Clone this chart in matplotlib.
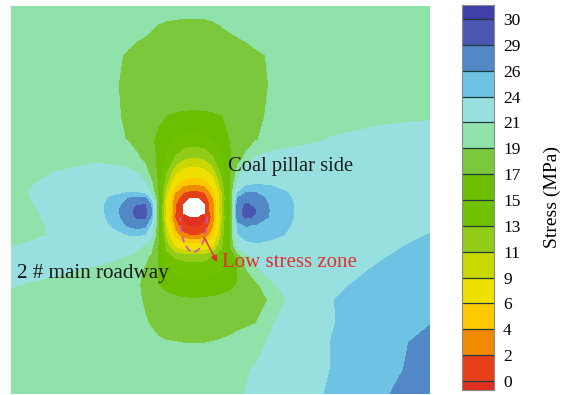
import numpy as np
import matplotlib
matplotlib.use('Agg')
import matplotlib.pyplot as plt
from matplotlib.patches import Arc

plt.rcParams['font.family'] = 'Liberation Serif'

# Stress contour bands (MPa) and their fill colours, low to high
levels = [-5, 0, 2, 4, 6, 9, 11, 13, 15, 17, 19, 21, 24, 26, 29, 30, 35]
band_colors = ['#e03022', '#e6401a', '#f08a00', '#fcc800', '#f0e000', '#c8d800',
               '#92cc18', '#70c200', '#6cbf00', '#7cc83c', '#8ee2aa', '#98e0e0',
               '#6ec2e4', '#5288c6', '#4a56b0', '#4040a8']
tick_values = levels[1:-1]

# Model grid (px across the section); nan = excavated roadway
x_nodes = [11, 55, 95, 115, 128, 137, 145, 151, 158, 166, 175, 183, 189, 194,
           199, 205, 213, 222, 231, 238, 246, 256, 270, 295, 330, 380, 430]
y_nodes = [6, 25, 55, 85, 117, 140, 158, 172, 184, 192, 198, 204, 210, 214,
           217, 225, 235, 246, 258, 270, 285, 300, 322, 343, 370, 394]
nan = np.nan
stress = [
    [20.3, 20.3, 20.2, 20.1, 20.0, 19.95, 19.9, 19.85, 19.8, 19.75, 19.7, 19.7, 19.7, 19.7, 19.7, 19.7, 19.75, 19.8, 19.85, 19.9, 20.0, 20.1, 20.2, 20.3, 20.4, 20.5, 20.6],
    [20.3, 20.2, 20.0, 19.8, 19.6, 19.45, 19.3, 19.15, 18.95, 18.8, 18.7, 18.65, 18.6, 18.6, 18.6, 18.65, 18.8, 19.05, 19.25, 19.4, 19.6, 19.8, 20.0, 20.2, 20.4, 20.5, 20.6],
    [20.3, 20.1, 19.7, 19.2, 18.85, 18.6, 18.5, 18.4, 18.3, 18.2, 18.15, 18.1, 18.1, 18.1, 18.1, 18.1, 18.15, 18.2, 18.3, 18.4, 18.5, 18.8, 19.1, 19.6, 20.2, 20.5, 20.7],
    [20.2, 19.9, 19.5, 19.1, 18.7, 18.45, 18.3, 18.2, 18.0, 17.9, 17.8, 17.75, 17.7, 17.7, 17.7, 17.75, 17.8, 17.9, 18.0, 18.1, 18.25, 18.55, 19.05, 19.6, 20.2, 20.6, 20.8],
    [20.2, 19.8, 19.4, 19.15, 18.8, 18.45, 18.1, 17.75, 17.3, 16.95, 16.85, 16.8, 16.8, 16.8, 16.8, 16.8, 16.85, 16.95, 17.3, 17.7, 18.05, 18.6, 19.25, 19.8, 20.3, 20.7, 20.9],
    [20.0, 19.7, 19.4, 19.2, 18.95, 18.5, 17.8, 17.2, 16.6, 15.6, 14.8, 14.4, 14.2, 14.2, 14.2, 14.4, 14.9, 15.9, 17.1, 17.7, 18.3, 18.9, 19.6, 20.3, 21.1, 21.5, 21.6],
    [20.2, 20.6, 20.7, 20.3, 19.7, 19.2, 18.6, 17.9, 16.6, 14.8, 12.6, 11.3, 11.0, 10.9, 11.0, 11.3, 12.6, 14.8, 16.9, 18.3, 19.4, 21.2, 21.8, 22.0, 22.0, 21.9, 21.8],
    [20.3, 21.0, 21.5, 21.6, 21.4, 20.9, 19.6, 18.3, 16.5, 13.0, 9.6, 8.2, 7.8, 7.7, 7.8, 8.2, 9.8, 13.5, 17.0, 19.8, 22.2, 22.8, 22.8, 22.5, 22.3, 22.1, 22.0],
    [20.5, 21.4, 22.2, 22.6, 22.7, 22.5, 21.4, 19.5, 16.8, 11.5, 6.5, 4.6, 4.2, 4.1, 4.2, 4.6, 7.0, 12.0, 17.2, 21.8, 23.4, 23.9, 23.8, 23.0, 22.6, 22.3, 22.2],
    [20.6, 21.6, 22.6, 23.4, 23.8, 23.8, 22.8, 20.5, 16.8, 10.0, 4.2, 2.2, 1.6, 1.5, 1.6, 2.2, 5.0, 11.0, 17.5, 23.8, 25.8, 25.8, 24.8, 23.6, 22.8, 22.4, 22.3],
    [20.5, 21.6, 23.0, 24.5, 25.9, 26.4, 26.3, 23.0, 17.2, 9.0, 2.8, 1.0, 0.6, 0.5, 0.6, 1.0, 4.0, 10.5, 17.5, 26.0, 27.6, 27.2, 25.3, 23.8, 23.0, 22.5, 22.4],
    [20.3, 21.6, 23.2, 24.8, 27.0, 28.8, 28.9, 25.5, 17.5, 8.5, 2.1, 0.6, nan, nan, nan, 0.8, 2.8, 11.0, 17.5, 27.4, 29.2, 28.3, 25.6, 23.9, 23.0, 22.6, 22.6],
    [20.2, 21.5, 23.2, 24.9, 28.2, 29.6, 29.7, 26.5, 17.5, 8.5, 2.1, 0.6, nan, nan, nan, 0.8, 2.8, 11.0, 17.5, 28.0, 29.9, 29.0, 25.8, 23.9, 23.1, 22.7, 22.8],
    [20.15, 21.45, 23.15, 24.85, 28.0, 29.5, 29.6, 26.3, 17.5, 8.3, 2.0, 0.4, nan, nan, nan, 0.6, 2.7, 10.8, 17.5, 27.9, 29.8, 28.9, 25.7, 23.9, 23.1, 22.8, 23.0],
    [20.1, 21.4, 23.1, 24.8, 27.6, 29.3, 29.4, 25.8, 17.5, 8.0, 1.8, -0.2, -1.5, -1.8, -1.5, -0.2, 2.5, 10.5, 17.5, 27.5, 29.5, 28.6, 25.6, 23.9, 23.1, 22.9, 23.2],
    [20.0, 21.3, 22.8, 24.4, 26.3, 27.0, 26.6, 23.5, 17.4, 9.0, 3.0, 0.3, -0.4, -0.5, -0.4, 0.3, 3.5, 11.0, 17.5, 25.0, 26.2, 25.8, 24.9, 23.8, 23.0, 23.1, 23.6],
    [20.0, 21.2, 22.4, 23.4, 24.0, 24.2, 23.8, 21.8, 17.5, 10.5, 5.0, 2.5, 2.0, 1.8, 2.0, 2.5, 5.0, 11.5, 17.6, 23.8, 24.8, 25.0, 24.5, 23.6, 23.0, 23.3, 24.05],
    [20.9, 21.8, 22.3, 22.5, 22.3, 21.6, 20.6, 19.6, 17.0, 12.0, 8.5, 7.2, 7.0, 7.0, 7.0, 7.2, 8.5, 12.5, 17.4, 21.5, 23.2, 23.6, 23.4, 23.0, 22.8, 23.6, 24.4],
    [21.3, 22.0, 21.8, 21.2, 20.6, 20.1, 19.3, 18.6, 17.0, 14.0, 12.8, 12.5, 12.4, 12.4, 12.4, 12.5, 13.0, 14.0, 15.6, 17.3, 19.8, 21.6, 22.4, 22.8, 23.0, 23.9, 24.7],
    [21.6, 21.4, 20.6, 20.2, 19.8, 19.3, 18.8, 18.3, 17.0, 15.5, 14.4, 14.1, 14.0, 14.0, 14.0, 14.1, 14.4, 14.9, 15.8, 17.0, 18.8, 20.6, 22.0, 22.6, 23.3, 24.2, 24.9],
    [21.1, 20.4, 20.0, 19.7, 19.4, 19.1, 18.8, 18.4, 17.0, 16.2, 15.7, 15.5, 15.5, 15.5, 15.5, 15.5, 15.7, 16.0, 16.5, 17.1, 17.9, 18.5, 20.5, 22.4, 23.6, 24.6, 25.3],
    [20.6, 20.2, 19.9, 19.6, 19.4, 19.2, 18.85, 18.6, 18.3, 17.9, 17.5, 17.3, 17.2, 17.2, 17.2, 17.3, 17.4, 17.6, 17.8, 18.0, 18.3, 18.5, 19.1, 22.0, 23.9, 25.0, 25.7],
    [20.4, 20.1, 19.8, 19.6, 19.4, 19.2, 19.1, 18.9, 18.6, 18.4, 18.3, 18.2, 18.2, 18.2, 18.2, 18.2, 18.3, 18.4, 18.5, 18.6, 18.7, 18.9, 20.6, 22.5, 23.8, 25.5, 25.9],
    [20.3, 20.1, 19.9, 19.7, 19.6, 19.5, 19.4, 19.3, 19.2, 19.1, 19.05, 19.0, 18.98, 18.97, 18.98, 19.0, 19.05, 19.15, 19.3, 19.5, 19.8, 20.2, 21.3, 22.4, 24.0, 25.2, 26.6],
    [20.2, 20.1, 20.0, 19.9, 19.85, 19.8, 19.8, 19.8, 19.8, 19.85, 19.9, 19.95, 20.0, 20.05, 20.1, 20.15, 20.25, 20.4, 20.55, 20.7, 20.85, 21.2, 22.0, 23.2, 24.0, 25.3, 26.8],
    [20.2, 20.1, 20.0, 20.0, 20.0, 20.0, 20.0, 20.0, 20.0, 20.05, 20.1, 20.15, 20.2, 20.25, 20.3, 20.4, 20.5, 20.6, 20.75, 20.9, 21.05, 21.4, 22.0, 23.0, 24.2, 25.7, 27.2],
]

# Low stress zone outline under the floor (centre, width, height)
low_zone = ((193.5, 217), 27, 70)
arrow_tail = (204, 237)
arrow_head = (217, 262)

fig = plt.figure(figsize=(5.63, 3.95), dpi=100)

# Contour map
ax = fig.add_axes([11 / 563, 1 / 395, 419 / 563, 388 / 395])
Z = np.ma.masked_invalid(np.array(stress, dtype=float))
ax.contourf(x_nodes, y_nodes, Z, levels=levels, colors=band_colors)
ax.set_xlim(11, 430)
ax.set_ylim(394, 6)
ax.axis('off')

ax.text(228, 171, 'Coal pillar side', fontsize=14.8, color='#1a1a1a')
ax.text(17, 278, '2 # main roadway', fontsize=15.2, color='#1a1a1a')
ax.text(222, 267, 'Low stress zone', fontsize=15, color='#e0302c')

(cx, cy), w, h = low_zone
ax.add_patch(Arc((cx, cy), w, h, theta1=0, theta2=180, color='#d450cc',
                 lw=1.2, ls=(0, (4, 2.5))))
ax.annotate('', xy=arrow_head, xytext=arrow_tail,
            arrowprops=dict(arrowstyle='-|>', color='#e0302c', lw=1.0,
                            mutation_scale=9, shrinkA=0, shrinkB=0))

# Colour bar (short end caps, one equal step per band in between)
cax = fig.add_axes([462 / 563, 5 / 395, 32 / 563, 385 / 395])
end_low, end_high = 0.35, 0.54
n_mid = len(tick_values) - 1
heights = [end_low] + [1] * n_mid + [end_high]
bottoms = [0] + [end_low + i for i in range(n_mid + 1)]
cax.bar(0, heights, bottom=bottoms, width=1, color=band_colors)
tick_pos = [end_low + i for i in range(len(tick_values))]
cax.hlines(tick_pos, -0.5, 0.5, colors='#1f3b3b', lw=0.9)
cax.set_xlim(-0.5, 0.5)
cax.set_ylim(0, end_low + n_mid + end_high)
cax.set_xticks([])
cax.yaxis.tick_right()
cax.set_yticks(tick_pos, labels=[str(v) for v in tick_values])
cax.tick_params(axis='y', length=0, pad=6.5, labelsize=12.5)
for sp in cax.spines.values():
    sp.set_color('#8a8a8a')
    sp.set_linewidth(0.8)

fig.text(552 / 563, 1 - 197 / 395, 'Stress (MPa)', rotation=90,
         ha='center', va='center', fontsize=14)

fig.savefig('out.png', dpi=100)
